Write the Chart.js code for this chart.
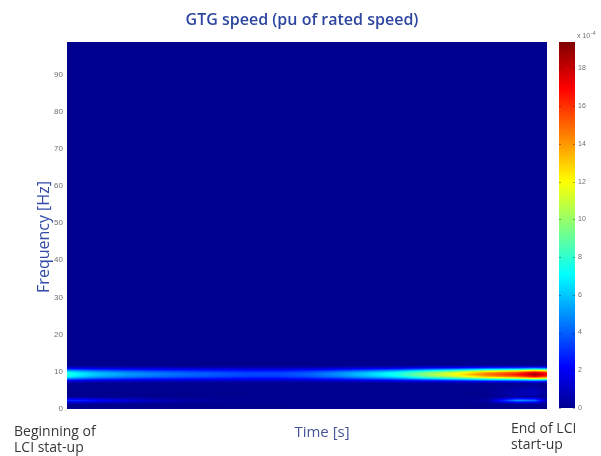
<!DOCTYPE html>
<html>
<head>
<meta charset="utf-8">
<script src="https://cdn.jsdelivr.net/npm/chart.js@4/dist/chart.umd.min.js"></script>
<style>
  html, body { margin: 0; padding: 0; background: #ffffff; }
  #wrap { position: relative; width: 601px; height: 456px; }
  #wrap canvas { position: absolute; left: 0; top: 0; }
</style>
</head>
<body>
<div id="wrap">
  <canvas id="spec" width="601" height="456"></canvas>
  <canvas id="cbar" width="601" height="456"></canvas>
</div>
<script>
// Spectrogram of GTG speed during LCI start-up (power in units of 1e-4 pu)
const times = [0, 0.5, 1, 2, 3, 4, 5, 6, 7, 8, 9, 10, 11, 12, 13, 14, 15, 15.6, 16];
const freqs = [0, 1.3, 1.8, 2.3, 2.8, 3.3, 4.5, 6.0, 6.8, 7.3, 7.8, 8.3, 8.8, 9.3, 9.8, 10.3, 10.8, 11.3, 11.8, 98.7];
// one row per frequency, one column per time
const power = [
  /* 0.0  */ [0, 0, 0, 0, 0, 0, 0, 0, 0, 0, 0, 0, 0, 0, 0, 0, 0, 0, 0],
  /* 1.3  */ [0, 0, 0, 0, 0, 0, 0, 0, 0, 0, 0, 0, 0, 0, 0, 0, 0, 0, 0],
  /* 1.8  */ [1.5, 1.4, 1.1, 0.7, 0.4, 0.2, 0.1, 0.05, 0.05, 0, 0, 0, 0, 0, 0, 0.15, 2.5, 2.1, 0.25],
  /* 2.3  */ [3.0, 2.8, 2.2, 1.4, 0.8, 0.4, 0.2, 0.1, 0.1, 0, 0, 0, 0, 0, 0, 0.3, 5.0, 4.2, 0.5],
  /* 2.8  */ [1.5, 1.4, 1.1, 0.7, 0.4, 0.2, 0.1, 0.05, 0.05, 0, 0, 0, 0, 0, 0, 0.15, 2.5, 2.1, 0.25],
  /* 3.3  */ [0, 0, 0, 0, 0, 0, 0, 0, 0, 0, 0, 0, 0, 0, 0, 0, 0.3, 0.3, 0],
  /* 4.5  */ [0, 0, 0, 0, 0, 0, 0, 0, 0, 0, 0, 0, 0, 0, 0, 0, 0.7, 0.9, 0.2],
  /* 6.0  */ [0, 0, 0, 0, 0, 0, 0, 0, 0, 0, 0, 0, 0, 0, 0, 0, 0.2, 0.4, 0],
  /* 6.8  */ [0, 0, 0, 0, 0, 0, 0, 0, 0, 0, 0, 0, 0, 0, 0, 0, 0, 0, 0],
  /* 7.3  */ [0.8, 0.7, 0.6, 0.5, 0.5, 0.4, 0.4, 0.4, 0.4, 0.4, 0.5, 0.6, 0.8, 1.0, 1.2, 1.5, 1.7, 1.9, 1.7],
  /* 7.8  */ [2.7, 2.4, 2.1, 1.8, 1.6, 1.5, 1.4, 1.3, 1.2, 1.4, 1.7, 2.2, 2.7, 3.5, 4.2, 5.2, 5.8, 6.6, 6.0],
  /* 8.3  */ [5.5, 4.8, 4.2, 3.6, 3.2, 2.9, 2.7, 2.5, 2.5, 2.8, 3.4, 4.3, 5.3, 7.0, 8.5, 10.4, 11.6, 13.2, 12.0],
  /* 8.8  */ [7.3, 6.3, 5.6, 4.8, 4.3, 3.9, 3.6, 3.3, 3.3, 3.7, 4.6, 5.8, 7.1, 9.3, 11.3, 13.8, 15.4, 17.5, 16.0],
  /* 9.3  */ [7.8, 6.8, 6.0, 5.2, 4.6, 4.2, 3.9, 3.6, 3.5, 4.0, 4.9, 6.2, 7.6, 10.0, 12.1, 14.8, 16.6, 18.8, 17.2],
  /* 9.8  */ [7.3, 6.3, 5.6, 4.8, 4.3, 3.9, 3.6, 3.3, 3.3, 3.7, 4.6, 5.8, 7.1, 9.3, 11.3, 13.8, 15.4, 17.5, 16.0],
  /* 10.3 */ [5.5, 4.8, 4.2, 3.6, 3.2, 2.9, 2.7, 2.5, 2.5, 2.8, 3.4, 4.3, 5.3, 7.0, 8.5, 10.4, 11.6, 13.2, 12.0],
  /* 10.8 */ [2.7, 2.4, 2.1, 1.8, 1.6, 1.5, 1.4, 1.3, 1.2, 1.4, 1.7, 2.2, 2.7, 3.5, 4.2, 5.2, 5.8, 6.6, 6.0],
  /* 11.3 */ [0.8, 0.7, 0.6, 0.5, 0.5, 0.4, 0.4, 0.4, 0.4, 0.4, 0.5, 0.6, 0.8, 1.0, 1.2, 1.5, 1.7, 1.9, 1.7],
  /* 11.8 */ [0, 0, 0, 0, 0, 0, 0, 0, 0, 0, 0, 0, 0, 0, 0, 0, 0, 0, 0],
  /* 98.7 */ [0, 0, 0, 0, 0, 0, 0, 0, 0, 0, 0, 0, 0, 0, 0, 0, 0, 0, 0]
];
const freqTicks = [0, 10, 20, 30, 40, 50, 60, 70, 80, 90];
const powerTicks = [0, 2, 4, 6, 8, 10, 12, 14, 16, 18];
const freqMax = 98.7;
const powerMax = 19.4;
const timeMin = 0, timeMax = 16;

// MATLAB-style jet colour map stops: [position, r, g, b]
const jet = [[0, 0, 0, 0.5625], [0.111, 0, 0, 1], [0.365, 0, 1, 1], [0.619, 1, 1, 0], [0.873, 1, 0, 0], [1, 0.5, 0, 0]];
function jetColor(v) {
  const x = Math.max(0, Math.min(1, v / powerMax));
  for (let i = 0; i < jet.length - 1; i++) {
    const a = jet[i], b = jet[i + 1];
    if (x <= b[0]) {
      const k = (x - a[0]) / (b[0] - a[0]);
      return [0, 1, 2].map(c => Math.round(255 * (a[c + 1] + k * (b[c + 1] - a[c + 1]))));
    }
  }
  return [128, 0, 0];
}

function bracket(arr, v) {
  const n = arr.length;
  if (v <= arr[0]) return [0, 0, 0];
  if (v >= arr[n - 1]) return [n - 1, n - 1, 0];
  for (let i = 0; i < n - 1; i++) {
    if (v <= arr[i + 1]) return [i, i + 1, (v - arr[i]) / (arr[i + 1] - arr[i])];
  }
  return [n - 1, n - 1, 0];
}

// bilinear lookup in the time/frequency grid
function sample(t, f) {
  const [c0, c1, ct] = bracket(times, t);
  const [r0, r1, rt] = bracket(freqs, f);
  const a = power[r0][c0] * (1 - ct) + power[r0][c1] * ct;
  const b = power[r1][c0] * (1 - ct) + power[r1][c1] * ct;
  return a * (1 - rt) + b * rt;
}

const tickGrey = 'rgb(110, 110, 110)';

// Paints the spectrogram cells pixel by pixel through the chart scales
const spectrogramPlugin = {
  id: 'spectrogram',
  beforeDatasetsDraw(chart) {
    const { ctx, chartArea, scales } = chart;
    const x0 = Math.round(chartArea.left), y0 = Math.round(chartArea.top);
    const w = Math.round(chartArea.right) - x0, h = Math.round(chartArea.bottom) - y0;
    const img = ctx.createImageData(w, h);
    for (let py = 0; py < h; py++) {
      const f = scales.y.getValueForPixel(y0 + py + 0.5);
      for (let px = 0; px < w; px++) {
        const t = scales.x.getValueForPixel(x0 + px + 0.5);
        const col = jetColor(sample(t, f));
        const o = (py * w + px) * 4;
        img.data[o] = col[0]; img.data[o + 1] = col[1]; img.data[o + 2] = col[2]; img.data[o + 3] = 255;
      }
    }
    ctx.putImageData(img, x0, y0);
  }
};

// Titles and start-up annotations
const labelsPlugin = {
  id: 'labels',
  afterDraw(chart) {
    const { ctx } = chart;
    ctx.save();
    ctx.textAlign = 'center';
    ctx.textBaseline = 'alphabetic';
    ctx.fillStyle = 'rgb(45, 70, 160)';
    ctx.font = '600 16px "Open Sans"';
    ctx.fillText('GTG speed (pu of rated speed)', 302, 25);

    ctx.font = '500 15px "Open Sans"';
    ctx.fillStyle = 'rgb(70, 85, 150)';
    ctx.fillText('Time [s]', 322, 437);

    ctx.save();
    ctx.translate(49, 237);
    ctx.rotate(-Math.PI / 2);
    ctx.fillStyle = 'rgb(50, 75, 165)';
    ctx.font = '500 16px "Open Sans"';
    ctx.fillText('Frequency [Hz]', 0, 0);
    ctx.restore();

    ctx.fillStyle = 'rgb(55, 55, 55)';
    ctx.textAlign = 'left';
    ctx.font = '14px "Open Sans"';
    ctx.fillText('Beginning of', 14, 436);
    ctx.fillText('LCI stat-up', 14, 452);
    ctx.fillText('End of LCI', 511, 433);
    ctx.fillText('start-up', 511, 449);
    ctx.restore();
  }
};

new Chart(document.getElementById('spec'), {
  type: 'scatter',
  data: { datasets: [] },
  plugins: [spectrogramPlugin, labelsPlugin],
  options: {
    responsive: false,
    animation: false,
    events: [],
    layout: { padding: { left: 0, top: 42, right: 54, bottom: 47 } },
    plugins: { legend: { display: false }, tooltip: { enabled: false } },
    scales: {
      x: { type: 'linear', min: timeMin, max: timeMax, display: false },
      y: {
        type: 'linear', min: 0, max: freqMax,
        afterBuildTicks(scale) { scale.ticks = freqTicks.map(v => ({ value: v })); },
        afterFit(scale) { scale.width = 67; },
        grid: { display: false, drawTicks: false },
        border: { display: false },
        ticks: { color: tickGrey, font: { size: 8, family: 'Arial' }, padding: 4 }
      }
    }
  }
});

// Colour bar drawn through its own value scale
const colorbarPlugin = {
  id: 'colorbarFill',
  beforeDatasetsDraw(chart) {
    const { ctx, chartArea, scales } = chart;
    const x0 = Math.round(chartArea.left), x1 = Math.round(chartArea.right);
    const y0 = Math.round(chartArea.top), y1 = Math.round(chartArea.bottom);
    for (let py = y0; py < y1; py++) {
      const c = jetColor(scales.y.getValueForPixel(py + 0.5));
      ctx.fillStyle = `rgb(${c[0]},${c[1]},${c[2]})`;
      ctx.fillRect(x0, py, x1 - x0, 1);
    }
    // small inner tick marks
    ctx.strokeStyle = 'rgba(0,0,0,0.35)';
    ctx.lineWidth = 1;
    powerTicks.forEach(v => {
      const y = Math.round(scales.y.getPixelForValue(v)) + 0.5;
      ctx.beginPath();
      ctx.moveTo(x0, y); ctx.lineTo(x0 + 2, y);
      ctx.moveTo(x1 - 2, y); ctx.lineTo(x1, y);
      ctx.stroke();
    });
    // exponent label
    ctx.fillStyle = tickGrey;
    ctx.font = '7px Arial';
    ctx.textAlign = 'left';
    ctx.fillText('x 10', 577, 38);
    ctx.font = '5px Arial';
    ctx.fillText('-4', 591, 35);
  }
};

new Chart(document.getElementById('cbar'), {
  type: 'scatter',
  data: { datasets: [] },
  plugins: [colorbarPlugin],
  options: {
    responsive: false,
    animation: false,
    events: [],
    layout: { padding: { left: 559, top: 42, right: 0, bottom: 48 } },
    plugins: { legend: { display: false }, tooltip: { enabled: false } },
    scales: {
      x: { type: 'linear', min: 0, max: 1, display: false },
      y: {
        type: 'linear', position: 'right', min: 0, max: powerMax,
        afterBuildTicks(scale) { scale.ticks = powerTicks.map(v => ({ value: v })); },
        afterFit(scale) { scale.width = 26; },
        grid: { display: false, drawTicks: false },
        border: { display: false },
        ticks: { color: tickGrey, font: { size: 7, family: 'Arial' }, padding: 3 }
      }
    }
  }
});
</script>
</body>
</html>
